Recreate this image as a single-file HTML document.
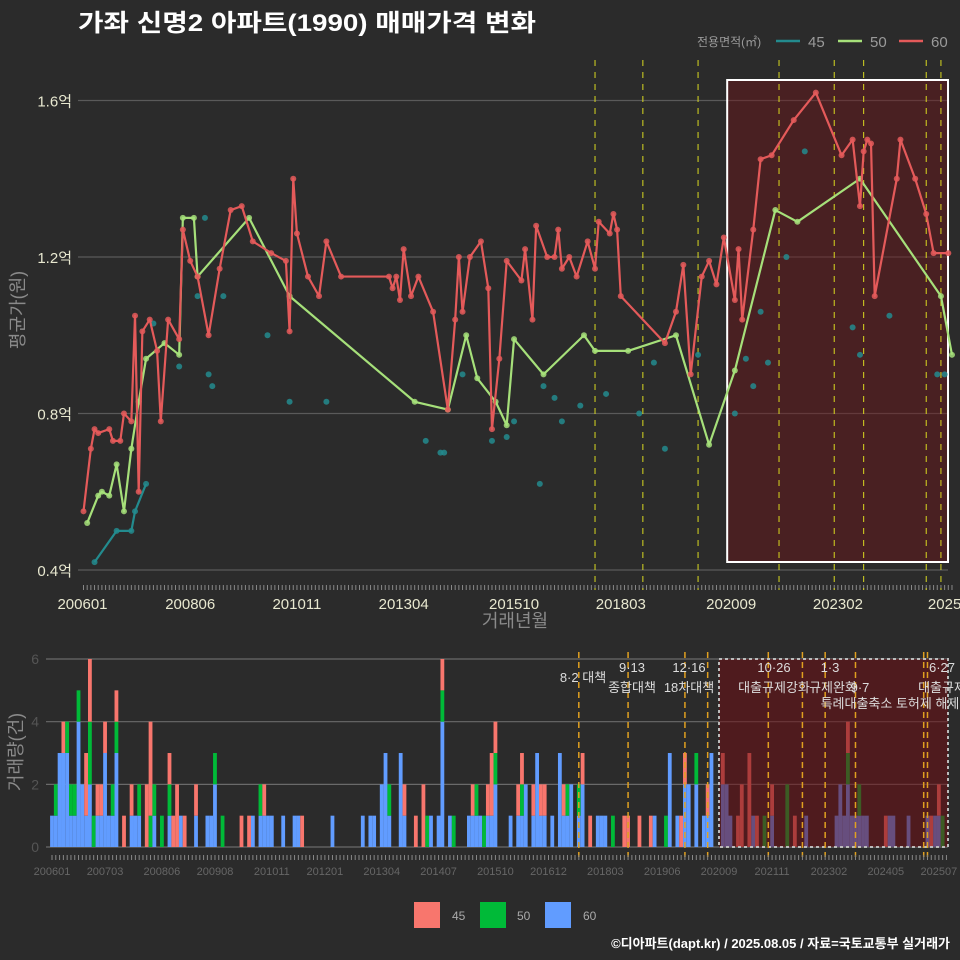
<!DOCTYPE html>
<html><head><meta charset="utf-8">
<style>
html,body{margin:0;padding:0;background:#2b2b2b;}
svg{display:block;font-family:"Liberation Sans","Noto Sans CJK KR",sans-serif;}
</style></head>
<body>
<svg id="c" width="960" height="960" viewBox="0 0 960 960" xmlns="http://www.w3.org/2000/svg">
<rect width="960" height="960" fill="#2b2b2b"/>
<text x="78" y="31" font-size="24" font-weight="bold" fill="#ffffff" textLength="458" lengthAdjust="spacingAndGlyphs">가좌 신명2 아파트(1990) 매매가격 변화</text>
<g>
<text x="697" y="46" font-size="12" fill="#9a9a9a">전용면적(㎡)</text>
<line x1="776" y1="41" x2="800" y2="41" stroke="#238b8e" stroke-width="2.5"/>
<text x="808" y="47" font-size="15" fill="#9a9a9a">45</text>
<line x1="838" y1="41" x2="862" y2="41" stroke="#a6e07a" stroke-width="2.5"/>
<text x="870" y="47" font-size="15" fill="#9a9a9a">50</text>
<line x1="899" y1="41" x2="923" y2="41" stroke="#e45a5a" stroke-width="2.5"/>
<text x="931" y="47" font-size="15" fill="#9a9a9a">60</text>
</g>
<g id="topG"></g>
<g id="botG"></g>
<g>
<rect x="414" y="902" width="26" height="26" fill="#F8766D"/>
<text x="452" y="920" font-size="12" fill="#aaaaaa">45</text>
<rect x="480" y="902" width="26" height="26" fill="#00BA38"/>
<text x="517" y="920" font-size="12" fill="#aaaaaa">50</text>
<rect x="545" y="902" width="26" height="26" fill="#619CFF"/>
<text x="583" y="920" font-size="12" fill="#aaaaaa">60</text>
</g>
<text x="950" y="948" font-size="13" font-weight="bold" fill="#ffffff" text-anchor="end">©디아파트(dapt.kr) / 2025.08.05 / 자료=국토교통부 실거래가</text>
</svg>
<script>
// ---- price data (month index from 200601, value in 억) ----
const redM=[0,2,3,4,7,8,10,11,13,14,15,16,18,20,21,23,26,27,29,31,34,37,40,43,46,51,55,56,57,58,61,64,66,70,83,84,85,86,87,89,91,95,99,101,102,103,105,108,110,111,113,115,119,120,122,123,126,128,129,130,132,134,137,139,140,143,144,145,146,158,161,163,165,168,170,172,174,177,178,179,182,184,187,193,199,206,209,211,212,213,214,215,221,222,226,229,231,235];
const redV=[0.55,0.71,0.76,0.75,0.76,0.73,0.73,0.80,0.78,1.05,0.60,1.01,1.04,0.96,0.78,1.04,0.99,1.27,1.19,1.15,1.00,1.17,1.32,1.33,1.24,1.21,1.19,1.01,1.40,1.26,1.15,1.10,1.24,1.15,1.15,1.12,1.15,1.09,1.22,1.10,1.15,1.06,0.81,1.04,1.20,1.06,1.20,1.24,1.12,0.76,0.94,1.19,1.14,1.22,1.04,1.28,1.20,1.20,1.27,1.17,1.20,1.15,1.24,1.17,1.29,1.26,1.31,1.27,1.10,0.98,1.06,1.18,0.90,1.15,1.19,1.13,1.25,1.09,1.22,1.04,1.27,1.45,1.46,1.55,1.62,1.46,1.50,1.33,1.47,1.50,1.49,1.10,1.40,1.50,1.40,1.31,1.21,1.21];
const greenM=[1,4,5,7,9,11,13,15,17,22,26,27,30,31,45,56,90,99,104,107,112,115,117,125,136,139,148,161,170,177,188,194,211,233,236];
const greenV=[0.52,0.59,0.60,0.59,0.67,0.55,0.71,0.83,0.94,0.98,0.95,1.30,1.30,1.15,1.30,1.10,0.83,0.81,1.00,0.89,0.83,0.77,0.99,0.90,1.00,0.96,0.96,1.00,0.72,0.91,1.32,1.29,1.40,1.10,0.95];
const tealLineM=[3,9,13,14,17];
const tealLineV=[0.42,0.50,0.50,0.55,0.62];
const tealM=[19,26,31,33,34,35,38,50,56,66,93,97,98,103,111,115,117,124,125,128,130,135,142,151,155,158,167,177,180,182,184,186,191,196,209,211,219,232,234];
const tealV=[1.03,0.92,1.10,1.30,0.90,0.87,1.10,1.00,0.83,0.83,0.73,0.70,0.70,0.90,0.73,0.74,0.78,0.62,0.87,0.84,0.78,0.82,0.85,0.80,0.93,0.71,0.95,0.80,0.94,0.87,1.06,0.93,1.20,1.47,1.02,0.95,1.05,0.90,0.90];
const yTicks=[0.4,0.8,1.2,1.6];
const yTickLabels=["0.4억","0.8억","1.2억","1.6억"];
const xTickMonths=[0,29,58,87,117,146,176,205,234];
const xTickLabels=["200601","200806","201011","201304","201510","201803","202009","202302","2025"];
const policyTop=[139,152,167,189,204,212,229,233];
// ---- volume data ----
const volM=[0,1,2,3,4,5,6,7,8,9,10,11,12,13,14,15,16,17,19,21,22,23,25,26,27,29,31,32,33,34,35,38,41,42,43,45,50,52,53,55,56,57,58,61,64,65,66,74,82,84,85,87,88,89,92,93,96,98,99,100,102,103,105,106,110,111,112,113,114,115,116,117,121,123,124,125,127,128,129,130,132,134,135,136,137,139,140,142,144,145,146,148,151,152,155,158,159,162,163,165,166,167,168,170,172,173,174,177,178,179,181,182,184,185,186,188,190,194,196,199,207,208,209,210,211,212,213,214,215,220,221,222,226,231,232,233,234,235];
const vol45=[0,0,0,1,0,0,0,0,0,2,2,0,1,1,1,0,0,1,1,1,0,0,2,3,0,0,1,1,2,0,1,1,0,0,0,0,1,1,0,0,1,0,0,0,0,0,1,0,0,0,0,0,0,0,0,1,1,2,0,0,0,1,0,0,0,1,0,0,0,1,2,1,0,1,1,0,1,0,1,1,0,0,1,0,0,0,1,1,0,0,0,0,1,1,1,1,0,0,0,0,1,1,0,0,0,1,0,1,0,0,1,2,3,0,1,0,1,0,1,0,0,0,0,1,0,0,0,0,0,1,0,0,0,0,1,0,1,0];
const vol50=[0,1,0,0,1,1,1,1,0,0,2,1,0,0,0,0,1,1,0,0,0,1,0,1,1,1,1,0,0,0,0,0,0,0,1,1,0,0,0,1,0,0,0,0,0,0,0,0,0,0,0,0,0,1,0,0,0,0,1,0,0,1,0,1,0,0,1,0,1,0,0,1,0,0,1,0,0,0,0,0,0,0,0,1,0,1,0,0,0,0,0,1,0,0,0,0,0,1,0,0,0,0,0,1,0,0,0,0,0,0,0,0,0,0,0,1,0,2,0,0,0,0,0,1,0,0,1,0,0,0,0,0,0,0,0,0,0,1];
const vol60=[1,1,3,3,3,1,1,4,2,1,2,0,1,1,3,1,1,3,0,1,1,1,0,0,1,0,1,0,0,1,0,1,1,1,2,0,0,0,1,1,1,1,1,1,1,1,0,1,1,1,1,2,3,1,3,1,0,0,0,1,1,4,1,0,1,1,1,1,0,1,1,2,1,1,1,2,1,3,1,1,1,3,1,1,2,1,2,0,1,1,1,0,0,0,0,0,1,0,3,1,0,2,2,2,1,1,3,2,2,1,0,0,0,1,0,0,1,0,0,1,1,2,1,2,1,1,1,1,1,0,1,1,1,1,0,1,1,0];
const vTicks=[0,2,4,6];
const vTickMonths=[0,14,29,43,58,72,87,102,117,131,146,161,176,190,205,220,234];
const vTickLabels=["200601","200703","200806","200908","201011","201201","201304","201407","201510","201612","201803","201906","202009","202111","202302","202405","202507"];
const policyBot=[139,152,167,173,189,198,204,212,230,231];

const NS="http://www.w3.org/2000/svg";
function mk(tag,attrs,parent){const e=document.createElementNS(NS,tag);for(const k in attrs)e.setAttribute(k,attrs[k]);parent.appendChild(e);return e;}

// ---- top chart ----
const topG=document.getElementById('topG');
const tx=m=>83.5+3.68*m;
const ty=v=>570-(v-0.4)*391.25;
const TL=52,TR=948;
yTicks.forEach((v,i)=>{
  const g=mk('line',{x1:TL+26,x2:TR,y1:ty(v),y2:ty(v),stroke:'#5a5a5a','stroke-width':1.2},topG);
  
  
  const t=mk('text',{x:72,y:ty(v)+6,'font-size':15,fill:'#e8e8d0','text-anchor':'end'},topG);
  t.textContent=yTickLabels[i];
  
  
});
for(let m=0;m<=236;m++){
  const l=mk('line',{x1:tx(m),x2:tx(m),y1:585,y2:590,stroke:'#888','stroke-width':1},topG);
  
  
}
xTickMonths.forEach((m,i)=>{
  const t=mk('text',{x:tx(m)-(i==0?1:0),y:609,'font-size':15,fill:'#e8e8d0','text-anchor':'middle'},topG);
  t.textContent=xTickLabels[i];
  
  
});
let tt=mk('text',{x:515,y:627,'font-size':18,fill:'#8a8a8a','text-anchor':'middle'},topG);tt.textContent='거래년월';


tt=mk('text',{x:0,y:0,'font-size':18,fill:'#8a8a8a','text-anchor':'middle',transform:'translate(24,310) rotate(-90)'},topG);tt.textContent='평균가(원)';


let hr=mk('rect',{x:tx(176)-4,y:80,width:948-tx(176)+4,height:482,fill:'rgba(110,20,25,0.45)',stroke:'#ffffff','stroke-width':2},topG);


policyTop.forEach(m=>{
  const l=mk('line',{x1:tx(m),x2:tx(m),y1:60,y2:590,stroke:'#d8d820','stroke-width':1,'stroke-dasharray':'6,6'},topG);
  
  
});
function series(M,V,col,name,line){
  const g=mk('g',{},topG);
  
  
  if(line){
    const p=mk('polyline',{points:M.map((m,i)=>tx(m)+','+ty(V[i])).join(' '),fill:'none',stroke:col,'stroke-width':2.2,'stroke-linejoin':'round'},g);
    
    
  }
  M.forEach((m,i)=>{
    const c=mk('circle',{cx:tx(m),cy:ty(V[i]),r:3,fill:col,opacity:0.85},g);
    
    
  });
}
series(tealM,tealV,'#238b8e','series-45-scatter',false);
series(tealLineM,tealLineV,'#238b8e','series-45',true);
series(greenM,greenV,'#a6e07a','series-50',true);
series(redM,redV,'#e45a5a','series-60',true);

// ---- bottom chart ----
const botG=document.getElementById('botG');
const bx=m=>52+3.79*m;
const by=v=>847-v*31.33;
vTicks.forEach(v=>{
  const l=mk('line',{x1:46,x2:948,y1:by(v),y2:by(v),stroke:'#6a6a6a','stroke-width':1.2},botG);
  
  
  const t=mk('text',{x:39,y:by(v)+5,'font-size':14,fill:'#555','text-anchor':'end'},botG);t.textContent=v;
  
  
});
volM.forEach((m,i)=>{
  let base=0;
  [[vol60[i],'#619CFF'],[vol50[i],'#00BA38'],[vol45[i],'#F8766D']].forEach(([n,col])=>{
    if(n>0){
      const r=mk('rect',{x:bx(m)-1.9,y:by(base+n),width:3.8,height:n*31.33,fill:col},botG);
      
      
      base+=n;
    }
  });
});
let br=mk('rect',{x:719,y:659,width:229,height:188,fill:'rgba(110,15,20,0.55)',stroke:'#bbbbbb','stroke-width':2,'stroke-dasharray':'3,3'},botG);


policyBot.forEach(m=>{
  const l=mk('line',{x1:bx(m),x2:bx(m),y1:652,y2:857,stroke:'#e0a020','stroke-width':1.5,'stroke-dasharray':'6,4'},botG);
  
  
});
for(let m=0;m<=236;m++){
  const l=mk('line',{x1:bx(m),x2:bx(m),y1:855,y2:860,stroke:'#888','stroke-width':1},botG);
  
  
}
vTickMonths.forEach((m,i)=>{
  const t=mk('text',{x:bx(m),y:875,'font-size':11,fill:'#666','text-anchor':'middle'},botG);t.textContent=vTickLabels[i];
  
  
});
const annX=[583,632,632,689,689,774,774,830,833,860,890,942,942];
const annY=[682,672,692,672,692,672,692,672,692,692,708,672,692];
const annText=['8·2 대책','9·13','종합대책','12·16','18차대책','10·26','대출규제강화','1·3','규제완화','9·7','특례대출축소 토허제 해제','6·27','대출규제'];
annText.forEach((s,i)=>{
  const t=mk('text',{x:annX[i],y:annY[i],'font-size':13,fill:'#dddddd','text-anchor':'middle'},botG);t.textContent=s;
  
  
});
tt=mk('text',{x:0,y:0,'font-size':18,fill:'#8a8a8a','text-anchor':'middle',transform:'translate(22,752) rotate(-90)'},botG);tt.textContent='거래량(건)';


</script>
</body></html>
